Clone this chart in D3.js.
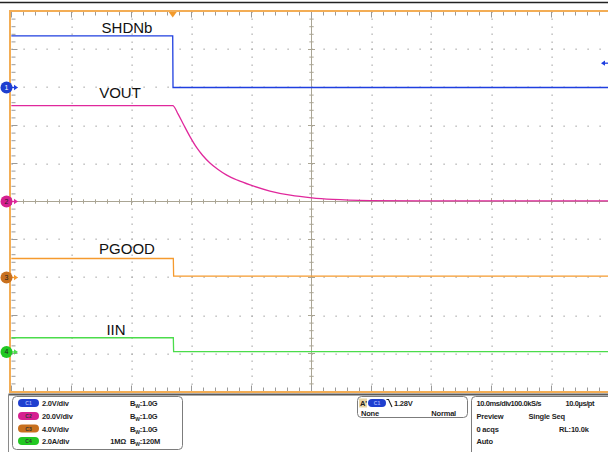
<!DOCTYPE html>
<meta charset="utf-8">
<script src="https://d3js.org/d3.v7.min.js"></script>
<style>
  body { margin: 0; background: #fff; }
  svg { display: block; font-family: "Liberation Sans", Arial, sans-serif; }
  .small { font-size: 7.5px; font-weight: bold; letter-spacing: -0.2px; fill: #1e1e1e; }
</style>
<div id="scope"></div>
<script>

// ---- data (time in ms, trigger at 0) ----
var shdnTime  = [-26.9, 0, 0.05, 72.6];
var shdnVolt  = [2.72, 2.72, 0, 0];

var voutTime  = [-26.9, 0, 0.9, 1.8, 2.9, 4.0, 5.0, 6.2, 7.5, 9.0, 10.8, 12.9, 16.2, 19.6, 23.2, 26.7, 32.9, 41.2, 72.6];
var voutVolt  = [50.5, 50.5, 46.0, 40.5, 34.0, 28.3, 24.2, 20.3, 17.0, 13.9, 11.2, 8.7, 5.5, 3.3, 1.9, 1.1, 0.5, 0.3, 0.3];

var pgoodTime = [-26.9, 0.1, 0.15, 72.6];
var pgoodVolt = [2.0, 2.0, 0.15, 0.15];

var iinTime   = [-26.9, 0.1, 0.15, 72.6];
var iinAmp    = [0.75, 0.75, 0.02, 0.02];

// channel settings
var chNames   = ["SHDNb", "VOUT", "PGOOD", "IIN"];
var chScale   = [2.0, 20.0, 4.0, 2.0];          // units per division
var chOffset  = [3, 0, -2, -3.96];               // ground position, divisions from centre
var chColor   = ["#1f3fe0", "#e0289c", "#f59a2e", "#4bdc4b"];
var chBadge   = ["#1f3fcf", "#d62090", "#c8701e", "#22c822"];
var chLabels  = ["2.0V/div", "20.0V/div", "4.0V/div", "2.0A/div"];
var chBw      = ["1.0G", "1.0G", "1.0G", "120M"];

var trigLevel = 1.28;   // V on C1
var timeInfo  = [["10.0ms/div", "100.0kS/s", "10.0\u00b5s/pt"],
                 ["Preview", "Single Seq", ""],
                 ["0 acqs", "", "RL:10.0k"],
                 ["Auto", "", ""]];

// ---- layout ----
var W = 608, H = 452;
var plotLeft = 11.5, plotTop = 11.5, divX = 60, divY = 38;

var svg = d3.select("#scope").append("svg")
  .attr("width", W).attr("height", H);

svg.append("rect").attr("width", W).attr("height", H).attr("fill", "#fff");

// divisions -> pixels
var xDiv = d3.scaleLinear().domain([-5, 5]).range([plotLeft, plotLeft + 10 * divX]);
var yDiv = d3.scaleLinear().domain([-5, 5]).range([plotTop + 10 * divY, plotTop]);

// time scale: trigger sits 2.687 div from the left edge, 10 ms/div
var x = d3.scaleLinear().domain([-26.87, 73.13]).range([plotLeft, plotLeft + 10 * divX]);

function yFor(ch) {
  return function(v) { return yDiv(chOffset[ch] + v / chScale[ch]); };
}

function isMajor(d) { return Math.abs(d - Math.round(d)) < 0.01; }

// top black rule
svg.append("line").attr("x1", 0).attr("x2", W).attr("y1", 2.5).attr("y2", 2.5)
  .attr("stroke", "#222").attr("stroke-width", 1.3);

var grid = svg.append("g");

// dotted graticule
var dots = [];
d3.range(-4, 5).forEach(function(i) {
  if (i === 0) return;
  d3.range(-5, 5.01, 0.2).forEach(function(j) { dots.push([xDiv(i), yDiv(j)]); });
});
d3.range(-4, 5).forEach(function(j) {
  if (j === 0) return;
  d3.range(-5, 5.01, 0.2).forEach(function(i) { dots.push([xDiv(i), yDiv(j)]); });
});
grid.selectAll("rect.dot").data(dots).enter().append("rect")
  .attr("class", "dot")
  .attr("x", function(d) { return Math.round(d[0]) - 0.5; })
  .attr("y", function(d) { return Math.round(d[1]) - 0.5; })
  .attr("width", 1.2).attr("height", 1.4)
  .attr("fill", "#a9a9a9");

// centre cross with ticks
var crossCol = "#aaa594";
grid.append("line").attr("x1", xDiv(-5)).attr("x2", xDiv(5)).attr("y1", yDiv(0)).attr("y2", yDiv(0))
  .attr("stroke", crossCol).attr("stroke-width", 1);
grid.append("line").attr("x1", xDiv(0)).attr("x2", xDiv(0)).attr("y1", yDiv(-5)).attr("y2", yDiv(5))
  .attr("stroke", crossCol).attr("stroke-width", 1);

var minor = d3.range(-5, 5.01, 0.2);
grid.selectAll("line.hx").data(minor).enter().append("line")
  .attr("x1", function(d) { return xDiv(d); }).attr("x2", function(d) { return xDiv(d); })
  .attr("y1", function(d) { return yDiv(0) - (isMajor(d) ? 3.5 : 2.2); })
  .attr("y2", function(d) { return yDiv(0) + (isMajor(d) ? 3.5 : 2.2); })
  .attr("stroke", crossCol);
grid.selectAll("line.vy").data(minor).enter().append("line")
  .attr("y1", function(d) { return yDiv(d); }).attr("y2", function(d) { return yDiv(d); })
  .attr("x1", function(d) { return xDiv(0) - (isMajor(d) ? 3.5 : 2.2); })
  .attr("x2", function(d) { return xDiv(0) + (isMajor(d) ? 3.5 : 2.2); })
  .attr("stroke", crossCol);

// border ticks (top, bottom, left)
var tickCol = "#9a9a9a";
grid.selectAll("line.tt").data(minor).enter().append("line")
  .attr("x1", function(d) { return xDiv(d); }).attr("x2", function(d) { return xDiv(d); })
  .attr("y1", yDiv(5)).attr("y2", function(d) { return yDiv(5) + (isMajor(d) ? 6 : 4); })
  .attr("stroke", tickCol);
grid.selectAll("line.bt").data(minor).enter().append("line")
  .attr("x1", function(d) { return xDiv(d); }).attr("x2", function(d) { return xDiv(d); })
  .attr("y1", yDiv(-5)).attr("y2", function(d) { return yDiv(-5) - (isMajor(d) ? 6 : 4); })
  .attr("stroke", tickCol);
grid.selectAll("line.lt").data(minor).enter().append("line")
  .attr("y1", function(d) { return yDiv(d); }).attr("y2", function(d) { return yDiv(d); })
  .attr("x1", xDiv(-5)).attr("x2", function(d) { return xDiv(-5) + (isMajor(d) ? 6 : 4); })
  .attr("stroke", tickCol);

// orange frame
var frameCol = "#f3ad55";
svg.append("line").attr("x1", plotLeft - 2.5).attr("x2", W).attr("y1", plotTop - 0.5).attr("y2", plotTop - 0.5)
  .attr("stroke", frameCol).attr("stroke-width", 2);
svg.append("line").attr("x1", plotLeft - 2.5).attr("x2", W).attr("y1", yDiv(-5) + 0.5).attr("y2", yDiv(-5) + 0.5)
  .attr("stroke", frameCol).attr("stroke-width", 2);
svg.append("line").attr("x1", plotLeft - 1.5).attr("x2", plotLeft - 1.5).attr("y1", plotTop - 1.5).attr("y2", yDiv(-5) + 1.5)
  .attr("stroke", frameCol).attr("stroke-width", 2);

// ---- traces ----
var traces = [
  { t: shdnTime, v: shdnVolt, ch: 0 },
  { t: voutTime, v: voutVolt, ch: 1 },
  { t: pgoodTime, v: pgoodVolt, ch: 2 },
  { t: iinTime, v: iinAmp, ch: 3 }
];

traces.forEach(function(tr) {
  var y = yFor(tr.ch);
  var pts = tr.t.map(function(t, i) { return [t, tr.v[i]]; });
  var line = d3.line()
    .x(function(d) { return x(d[0]); })
    .y(function(d) { return y(d[1]); })
    .curve(tr.ch === 1 ? d3.curveMonotoneX : d3.curveLinear);
  svg.append("path").datum(pts)
    .attr("d", line)
    .attr("fill", "none")
    .attr("stroke", chColor[tr.ch])
    .attr("stroke-width", 1.3);
});

// trace names
var nameLayout = [[127, 33.3], [120, 98.3], [127, 254.3], [116, 335]];
svg.selectAll("text.name").data(chNames).enter().append("text")
  .attr("class", "name")
  .attr("x", function(d, i) { return nameLayout[i][0]; })
  .attr("y", function(d, i) { return nameLayout[i][1]; })
  .attr("text-anchor", "middle")
  .style("font-size", "15px")
  .attr("fill", "#111")
  .text(function(d) { return d; });

// ground markers on the left
var markers = svg.selectAll("g.mk").data(chNames).enter().append("g")
  .attr("class", "mk")
  .attr("transform", function(d, i) { return "translate(6.5," + yFor(i)(0) + ")"; });
markers.append("path")
  .attr("d", "M5,0 H9")
  .attr("stroke", function(d, i) { return chColor[i]; })
  .attr("stroke-width", 1.3);
markers.append("path")
  .attr("d", "M7.5,-2.8 L11.5,0 L7.5,2.8 Z")
  .attr("fill", function(d, i) { return chColor[i]; });
markers.append("circle")
  .attr("r", 6)
  .attr("fill", function(d, i) { return chBadge[i]; });
markers.append("text")
  .attr("y", 2.4).attr("text-anchor", "middle")
  .style("font-size", "7px")
  .attr("fill", function(d, i) { return i === 0 ? "#fff" : "#222"; })
  .text(function(d, i) { return i + 1; });

// trigger position marker
svg.append("path")
  .attr("d", "M" + (x(0) - 4) + "," + (plotTop + 0.5) + " L" + (x(0) + 4) + "," + (plotTop + 0.5) + " L" + x(0) + "," + (plotTop + 6) + " Z")
  .attr("fill", "#f29a2c");

// trigger level arrow on the right
var ty = yFor(0)(trigLevel);
svg.append("path").attr("d", "M" + (W - 7) + "," + ty + " L" + (W - 3) + "," + (ty - 2.6) + " L" + (W - 3) + "," + (ty + 2.6) + " Z")
  .attr("fill", chColor[0]);
svg.append("line").attr("x1", W - 4).attr("x2", W).attr("y1", ty).attr("y2", ty)
  .attr("stroke", chColor[0]).attr("stroke-width", 1.3);

// ---- status panel ----
var panelTop = 394.5;
svg.append("line").attr("x1", 8.5).attr("x2", W).attr("y1", panelTop).attr("y2", panelTop)
  .attr("stroke", "#5a5a5a").attr("stroke-width", 2);
svg.append("line").attr("x1", 8.5).attr("x2", 8.5).attr("y1", panelTop).attr("y2", H)
  .attr("stroke", "#8a8a8a").attr("stroke-width", 1);

var boxStroke = "#7c7c7c";
svg.append("rect").attr("x", 12.5).attr("y", 396.5).attr("width", 170).attr("height", 53).attr("rx", 4)
  .attr("fill", "#fff").attr("stroke", boxStroke);
svg.append("rect").attr("x", 357.5).attr("y", 396.5).attr("width", 110).attr("height", 21).attr("rx", 4)
  .attr("fill", "#fff").attr("stroke", boxStroke);
svg.append("rect").attr("x", 471.5).attr("y", 396.5).attr("width", 150).attr("height", 60).attr("rx", 4)
  .attr("fill", "#fff").attr("stroke", boxStroke);

var rowY = [406, 419, 431.5, 444];

// channel rows
var rows = svg.selectAll("g.row").data(chLabels).enter().append("g")
  .attr("class", "row")
  .attr("transform", function(d, i) { return "translate(0," + rowY[i] + ")"; });
rows.append("rect")
  .attr("x", 18).attr("y", -7).attr("width", 21).attr("height", 8).attr("rx", 4)
  .attr("fill", function(d, i) { return chBadge[i]; });
rows.append("text")
  .attr("x", 28.5).attr("y", -1).attr("text-anchor", "middle")
  .style("font-size", "5px").style("font-weight", "bold")
  .attr("fill", function(d, i) { return i === 0 ? "#9fb0ff" : "#333"; })
  .text(function(d, i) { return "C" + (i + 1); });
rows.append("text")
  .attr("class", "small")
  .attr("x", 42).attr("y", 0)
  .text(function(d) { return d; });
var bw = rows.append("text")
  .attr("class", "small")
  .attr("x", 130).attr("y", 0);
bw.append("tspan").text("B");
bw.append("tspan").attr("dy", 2).style("font-size", "5px").text("W");
bw.append("tspan").attr("dy", -2).text(function(d, i) { return ":" + chBw[i]; });
rows.filter(function(d, i) { return i === 3; }).append("text")
  .attr("class", "small")
  .attr("x", 126).attr("y", 0).attr("text-anchor", "end")
  .text("1M\u03a9");

// trigger box
svg.append("rect").attr("x", 359).attr("y", 398.5).attr("width", 8).attr("height", 9).attr("fill", "#ead7a6");
svg.append("text").attr("class", "small").attr("x", 360).attr("y", 406).text("A'");
svg.append("rect").attr("x", 368).attr("y", 399).attr("width", 18).attr("height", 8).attr("rx", 4)
  .attr("fill", chBadge[0]);
svg.append("text").attr("x", 377).attr("y", 405).attr("text-anchor", "middle")
  .style("font-size", "5px").style("font-weight", "bold").attr("fill", "#9fb0ff").text("C1");
svg.append("path").attr("d", "M386.5,399.5 H388.5 L392,407").attr("fill", "none")
  .attr("stroke", "#222").attr("stroke-width", 1.1);
svg.append("text").attr("class", "small").attr("x", 394).attr("y", 405.5)
  .text(d3.format(".2f")(trigLevel) + "V");
svg.append("text").attr("class", "small").attr("x", 361).attr("y", 415.5).text("None");
svg.append("text").attr("class", "small").attr("x", 456).attr("y", 415.5).attr("text-anchor", "end").text("Normal");

// timebase box
var colX = [476.5, 510.5, 565.5];
timeInfo.forEach(function(r, i) {
  r.forEach(function(s, j) {
    if (!s) return;
    var cx = colX[j];
    if (i === 1 && j === 1) cx = 528.5;
    if (i === 2 && j === 2) cx = 559;
    svg.append("text").attr("class", "small")
      .attr("x", cx).attr("y", rowY[i])
      .style("letter-spacing", i === 0 ? "-0.4px" : null)
      .text(s);
  });
});

</script>
